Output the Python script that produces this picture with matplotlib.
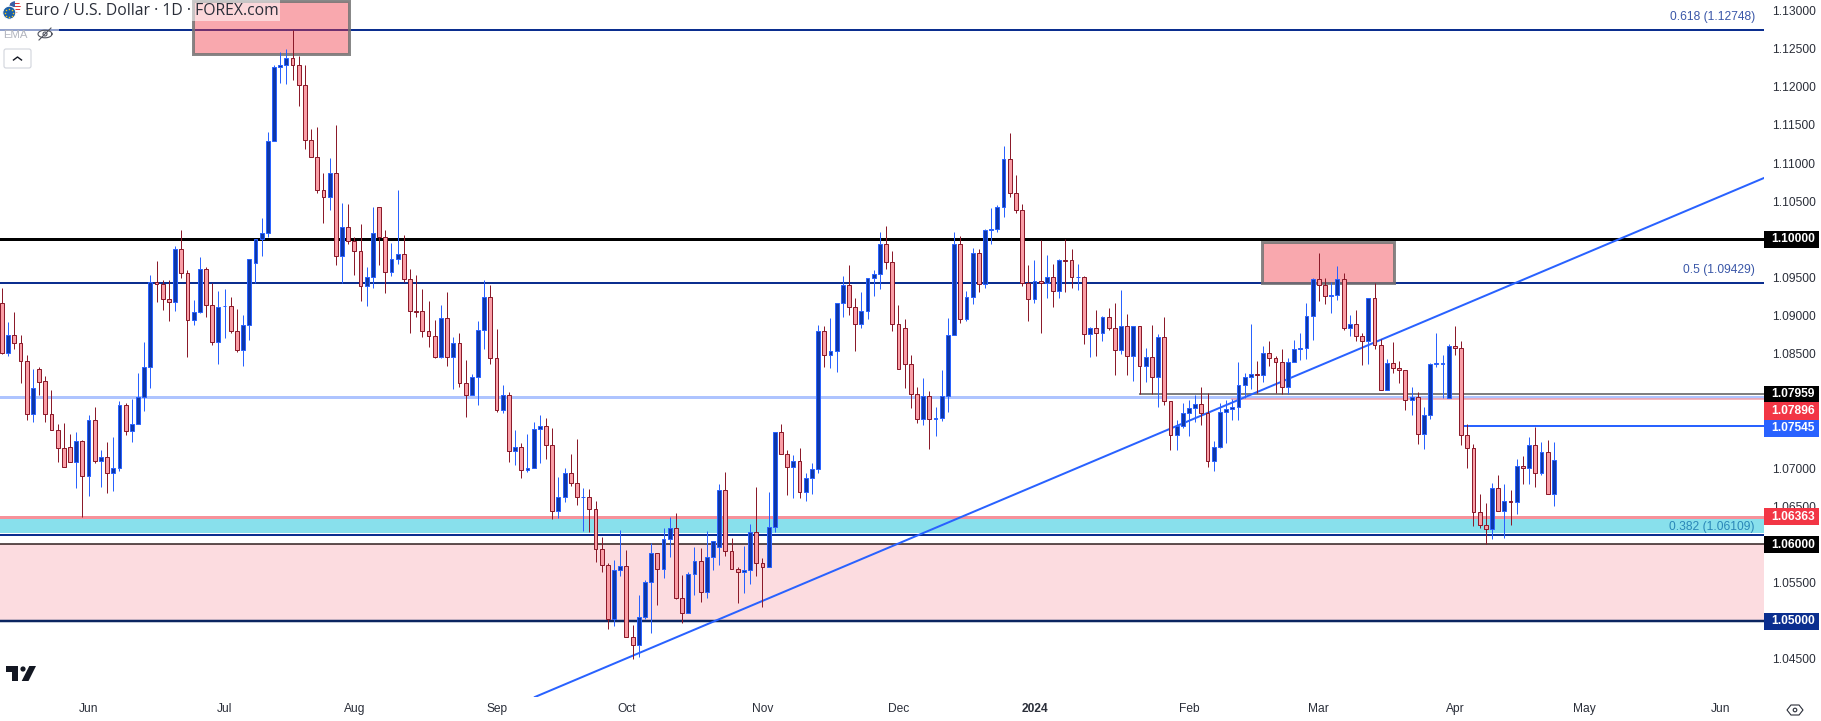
import matplotlib
matplotlib.use('Agg')
import matplotlib.pyplot as plt
import numpy as np
from matplotlib.patches import Circle, Polygon, Rectangle, FancyBboxPatch

# ---- Daily candles
opens = [
    1.09161,1.08506,1.08742,1.08637,1.08401,1.07706,1.08296,1.08139,1.07706,1.07496,
    1.07260,1.07273,1.07077,1.07352,1.06893,1.07627,1.07090,1.07142,1.06933,1.06998,
    1.07824,1.07483,1.07575,1.07929,1.08322,1.09445,1.09410,1.09214,1.09183,1.09869,
    1.09555,1.08938,1.09052,1.09607,1.09135,1.08650,1.09122,1.09122,1.08794,1.08545,
    1.08873,1.09686,1.10009,1.10079,1.11285,1.12255,1.12281,1.12373,1.12281,1.12019,
    1.11298,1.11075,1.10643,1.10551,1.10866,1.09777,1.10166,1.09974,1.09843,1.09384,
    1.09502,1.10420,1.10027,1.09568,1.09738,1.09804,1.09476,1.09056,1.09056,1.08794,
    1.08729,1.08453,1.08965,1.08453,1.08637,1.08112,1.07955,1.08191,1.08807,1.09240,
    1.08440,1.07759,1.07955,1.07221,1.07273,1.06972,1.06998,1.07509,1.07549,1.07300,
    1.06434,1.06618,1.06933,1.06801,1.06618,1.06618,1.06461,1.05936,1.05726,1.05027,
    1.05661,1.05713,1.04783,1.04678,1.05045,1.05504,1.05884,1.05674,1.06067,1.06212,
    1.05294,1.05097,1.05608,1.05779,1.05373,1.05831,1.05962,1.06710,1.05910,1.05674,
    1.05635,1.05661,1.06159,1.05753,1.05709,1.06225,1.07470,1.07182,1.07011,1.07090,
    1.06684,1.06867,1.06985,1.08794,1.08480,1.08532,1.09161,1.09397,1.09109,1.08886,
    1.09056,1.09489,1.09541,1.09935,1.09699,1.08886,1.08834,1.08362,1.07968,1.07641,
    1.07942,1.07641,1.07654,1.07942,1.08742,1.09935,1.08952,1.09240,1.09817,1.09410,
    1.10123,1.10131,1.10420,1.11049,1.10603,1.10381,1.09423,1.09214,1.09450,1.09423,
    1.09502,1.09319,1.09725,1.09725,1.09502,1.09502,1.08755,1.08834,1.08768,1.08978,
    1.08834,1.08545,1.08860,1.08466,1.08860,1.08335,1.08453,1.08191,1.08716,1.07877,
    1.07431,1.07549,1.07719,1.07785,1.07837,1.07719,1.07090,1.07273,1.07732,1.07772,
    1.07798,1.08086,1.08191,1.08230,1.08217,1.08506,1.08440,1.08388,1.08060,1.08388,
    1.08558,1.08571,1.08991,1.09476,1.09397,1.09253,1.09266,1.09476,1.08834,1.08886,
    1.08729,1.08663,1.09227,1.08611,1.08021,1.08375,1.08309,1.08283,1.07890,1.07929,
    1.07444,1.07693,1.08370,1.08370,1.07916,1.08598,1.08571,1.07431,1.07260,1.06421,
    1.06251,1.06198,1.06736,1.06434,1.06566,1.06552,1.07024,1.06998,1.07300,1.06933,1.07208,1.06657,
]
highs = [
    1.09358,1.08921,1.09048,1.08746,1.08484,1.08300,1.08322,1.08209,1.08025,1.07575,
    1.07588,1.07448,1.07474,1.07370,1.07697,1.07802,1.07238,1.07343,1.07409,1.07877,
    1.07850,1.07907,1.08252,1.08659,1.09533,1.09716,1.09467,1.09467,1.09913,1.10123,
    1.09598,1.09205,1.09773,1.09638,1.09423,1.09323,1.09349,1.09249,1.09087,1.09008,
    1.09738,1.10009,1.10280,1.11407,1.12286,1.12461,1.12496,1.12745,1.12404,1.12286,
    1.11442,1.11473,1.10866,1.11067,1.11495,1.10472,1.10464,1.10027,1.10201,1.09642,
    1.10420,1.10420,1.10123,1.09952,1.10647,1.10057,1.09607,1.09533,1.09349,1.09192,
    1.08943,1.09139,1.09314,1.08724,1.08768,1.08418,1.08235,1.08930,1.09467,1.09397,
    1.08825,1.08091,1.07999,1.07501,1.07326,1.07448,1.07606,1.07697,1.07654,1.07523,
    1.06885,1.07003,1.07186,1.07383,1.06736,1.06727,1.06570,1.06098,1.05753,1.05796,
    1.06190,1.05927,1.04944,1.05333,1.05534,1.06015,1.05884,1.06216,1.06360,1.06408,
    1.05600,1.05635,1.05962,1.05949,1.06172,1.06041,1.06788,1.06946,1.06080,1.05709,
    1.05980,1.06268,1.06753,1.05818,1.06684,1.07470,1.07579,1.07238,1.07173,1.07265,
    1.06933,1.07064,1.08877,1.08864,1.08969,1.09161,1.09520,1.09664,1.09231,1.09310,
    1.09489,1.09598,1.10092,1.10175,1.09847,1.09139,1.08952,1.08484,1.08069,1.08182,
    1.08012,1.07798,1.08287,1.08965,1.10092,1.10044,1.09319,1.09882,1.09869,1.10131,
    1.10411,1.10450,1.11224,1.11394,1.10844,1.10464,1.09664,1.09729,1.09992,1.09795,
    1.09677,1.09743,1.10000,1.09869,1.09677,1.09520,1.08851,1.09074,1.08991,1.09100,
    1.09166,1.09336,1.09021,1.08860,1.08860,1.08576,1.08877,1.08755,1.08978,1.07877,
    1.07632,1.07850,1.07894,1.07960,1.08064,1.07981,1.07356,1.07850,1.07894,1.07903,
    1.08392,1.08244,1.08890,1.08405,1.08602,1.08667,1.08471,1.08563,1.08445,1.08681,
    1.08768,1.09161,1.09489,1.09821,1.09489,1.09445,1.09651,1.09555,1.09008,1.09074,
    1.08768,1.09227,1.09423,1.08689,1.08432,1.08654,1.08405,1.08283,1.08064,1.07995,
    1.07802,1.08375,1.08772,1.08484,1.08624,1.08860,1.08667,1.07575,1.07313,1.06657,
    1.06539,1.06801,1.06906,1.06788,1.06714,1.07121,1.07160,1.07409,1.07540,1.07343,1.07370,1.07343,
]
lows = [
    1.08490,1.08471,1.08567,1.08121,1.07632,1.07610,1.07960,1.07610,1.07496,1.07086,
    1.07020,1.07077,1.06745,1.06364,1.06640,1.07072,1.06758,1.06679,1.06705,1.06968,
    1.07440,1.07348,1.07575,1.07754,1.08056,1.09183,1.09074,1.08934,1.09065,1.09498,
    1.08462,1.08877,1.09039,1.08986,1.08619,1.08366,1.08711,1.08777,1.08528,1.08340,
    1.08681,1.09432,1.09782,1.10035,1.11285,1.12054,1.12037,1.12089,1.11748,1.11185,
    1.11075,1.10612,1.10219,1.10385,1.09664,1.09432,1.09939,1.09533,1.09192,1.09131,
    1.09358,1.09664,1.09292,1.09520,1.09673,1.09437,1.08768,1.08986,1.08724,1.08593,
    1.08440,1.08440,1.08340,1.08043,1.08069,1.07675,1.07955,1.07833,1.08567,1.08370,
    1.07741,1.07728,1.07086,1.07042,1.06876,1.06954,1.06998,1.07072,1.07121,1.06338,
    1.06351,1.06561,1.06771,1.06517,1.06177,1.06168,1.05775,1.05643,1.04896,1.04936,
    1.05591,1.04783,1.04503,1.04529,1.05023,1.04844,1.05206,1.05565,1.05840,1.05281,
    1.04975,1.05097,1.05338,1.05250,1.05298,1.05665,1.05731,1.05853,1.05674,1.05237,
    1.05368,1.05482,1.05587,1.05185,1.05700,1.06168,1.07182,1.06649,1.06614,1.06614,
    1.06574,1.06662,1.06941,1.08331,1.08318,1.08265,1.08986,1.09008,1.08541,1.08842,
    1.08960,1.09262,1.09349,1.09611,1.08803,1.08296,1.08056,1.07793,1.07597,1.07571,
    1.07256,1.07426,1.07623,1.07741,1.08742,1.08899,1.08934,1.09153,1.09310,1.09367,
    1.09939,1.10096,1.10297,1.10555,1.10346,1.09389,1.08934,1.09166,1.08777,1.09231,
    1.09118,1.09231,1.09310,1.09367,1.09336,1.08628,1.08462,1.08471,1.08667,1.08816,
    1.08222,1.08493,1.08222,1.08147,1.07968,1.08134,1.07968,1.07807,1.07824,1.07238,
    1.07238,1.07531,1.07426,1.07610,1.07566,1.07020,1.06968,1.07260,1.07335,1.07632,
    1.07632,1.07916,1.08034,1.07990,1.08134,1.08340,1.07981,1.07977,1.07977,1.08388,
    1.08418,1.08432,1.08681,1.09192,1.09153,1.09035,1.09205,1.08812,1.08733,1.08667,
    1.08353,1.08366,1.08563,1.08021,1.08021,1.08248,1.08117,1.07763,1.07697,1.07317,
    1.07252,1.07645,1.08327,1.07920,1.07916,1.08484,1.07304,1.07003,1.06247,1.06220,
    1.06011,1.06072,1.06434,1.06080,1.06255,1.06399,1.06793,1.06793,1.06753,1.06911,1.06657,1.06504,
]
closes = [
    1.08506,1.08742,1.08637,1.08401,1.07706,1.08047,1.08134,1.07706,1.07496,1.07260,
    1.07020,1.07077,1.07352,1.06893,1.07627,1.07090,1.07142,1.06933,1.06998,1.07824,
    1.07483,1.07575,1.07929,1.08322,1.09445,1.09410,1.09214,1.09183,1.09869,1.09555,
    1.08938,1.09052,1.09607,1.09135,1.08650,1.09109,1.09126,1.08794,1.08545,1.08873,
    1.09738,1.10009,1.10079,1.11285,1.12255,1.12281,1.12373,1.12281,1.12019,1.11298,
    1.11075,1.10643,1.10551,1.10866,1.09777,1.10166,1.09974,1.09843,1.09384,1.09502,
    1.10079,1.10027,1.09568,1.09738,1.09804,1.09476,1.09056,1.09052,1.08794,1.08729,
    1.08453,1.08965,1.08453,1.08637,1.08112,1.07955,1.08191,1.08807,1.09240,1.08440,
    1.07759,1.07955,1.07221,1.07273,1.06972,1.06998,1.07509,1.07549,1.07300,1.06434,
    1.06618,1.06933,1.06801,1.06618,1.06622,1.06461,1.05936,1.05726,1.05027,1.05661,
    1.05713,1.04783,1.04678,1.05045,1.05504,1.05884,1.05674,1.06067,1.06212,1.05294,
    1.05097,1.05608,1.05779,1.05373,1.05831,1.06041,1.06710,1.05910,1.05674,1.05635,
    1.05661,1.06159,1.05753,1.05709,1.06225,1.07470,1.07182,1.07011,1.07090,1.06684,
    1.06867,1.06985,1.08794,1.08480,1.08532,1.09161,1.09397,1.09109,1.08886,1.09056,
    1.09489,1.09541,1.09935,1.09699,1.08886,1.08296,1.08362,1.07968,1.07641,1.07942,
    1.07641,1.07654,1.07942,1.08742,1.09935,1.08952,1.09240,1.09817,1.09410,1.10118,
    1.10131,1.10420,1.11049,1.10603,1.10381,1.09423,1.09214,1.09450,1.09423,1.09502,
    1.09319,1.09725,1.09721,1.09502,1.09507,1.08755,1.08834,1.08768,1.08978,1.08834,
    1.08545,1.08860,1.08466,1.08860,1.08335,1.08453,1.08191,1.08716,1.07877,1.07431,
    1.07549,1.07719,1.07785,1.07837,1.07719,1.07090,1.07273,1.07732,1.07772,1.07798,
    1.08086,1.08191,1.08230,1.08217,1.08506,1.08440,1.08388,1.08060,1.08388,1.08558,
    1.08571,1.08991,1.09476,1.09397,1.09253,1.09266,1.09476,1.08834,1.08886,1.08729,
    1.08663,1.09227,1.08611,1.08021,1.08375,1.08309,1.08283,1.07890,1.07929,1.07444,
    1.07693,1.08362,1.08375,1.08375,1.08598,1.08571,1.07431,1.07260,1.06421,1.06251,
    1.06198,1.06736,1.06434,1.06566,1.06552,1.07024,1.06998,1.07300,1.06933,1.07208,1.06657,1.07103,
]

# ---- Time axis
month_labels = ['Jun', 'Jul', 'Aug', 'Sep', 'Oct', 'Nov', 'Dec', '2024', 'Feb', 'Mar', 'Apr', 'May', 'Jun']
month_bars = [14, 36, 57, 80, 101, 123, 145, 167, 192, 213, 235, 256, 278]

# ---- Price axis
price_ticks = [1.045, 1.05, 1.055, 1.06, 1.065, 1.07, 1.075, 1.08, 1.085, 1.09,
               1.095, 1.10, 1.105, 1.11, 1.115, 1.12, 1.125, 1.13]

# ---- Levels and drawings
tag_labels = ['1.10000', '1.07959', '1.07896', '1.07545', '1.06363', '1.06000', '1.05000']
tag_prices = [1.10000, 1.07968, 1.07749, 1.07522, 1.06366, 1.05999, 1.04990]
tag_colors = ['#000000', '#000000', '#f23645', '#2962ff', '#f23645', '#000000', '#0b2e8f']

trend_bars = [86.2, 285.0]
trend_prices = [1.04000, 1.10804]
box_bars = [[30.9, 56.1], [203.8, 225.1]]
box_prices = [[1.12429, 1.13125], [1.09429, 1.09966]]

NAVY = '#0b2e8f'
BLUE = '#2962ff'
BODY_BLUE = '#0d37a8'
BODY_RED = '#f99ea6'
EDGE_RED = '#8b1a2a'
FONT = 'Liberation Sans'
PX = 0.72  # one pixel in points at dpi 100


def candles(ax):
    '''
    Draws the wicks and bodies, blue when the close is at or above the open.
    :param ax: The chart axis.
    :return: Nothing.
    '''
    o, h, l, c = map(np.array, (opens, highs, lows, closes))
    x = np.arange(len(o))
    up = c >= o
    ax.vlines(x[up], l[up], h[up], colors=BLUE, linewidth=PX, zorder=5)
    ax.vlines(x[~up], l[~up], h[~up], colors=EDGE_RED, linewidth=PX, zorder=5)
    ax.bar(x[up], (c - o)[up], bottom=o[up], width=0.62, color=BODY_BLUE,
           edgecolor=BLUE, linewidth=PX, zorder=6)
    ax.bar(x[~up], (o - c)[~up], bottom=c[~up], width=0.62, color=BODY_RED,
           edgecolor=EDGE_RED, linewidth=PX, zorder=6)


def levels(ax):
    '''
    Draws the bands, horizontal levels, trend line and the two boxes.
    :param ax: The chart axis.
    :return: Nothing.
    '''
    xmax = ax.get_xlim()[1]
    ax.axhspan(1.05, 1.06, color='#fcdce0', linewidth=0, zorder=1)
    ax.axhspan(1.06152, 1.06366, color='#88e0ec', linewidth=0, zorder=1)
    ax.axhline(1.12748, color=NAVY, linewidth=2 * PX, zorder=2)
    ax.axhline(1.10000, color='black', linewidth=3 * PX, zorder=2)
    ax.axhline(1.09429, color=NAVY, linewidth=2 * PX, zorder=2)
    ax.axhline(1.07937, color='#aec4ff', linewidth=3 * PX, zorder=2)
    ax.axhline(1.06366, color='#f7919a', linewidth=3 * PX, zorder=2)
    ax.axhline(1.06127, color=NAVY, linewidth=2 * PX, zorder=2)
    ax.axhline(1.06009, color='#2a1a1a', linewidth=1.5 * PX, zorder=2)
    ax.axhline(1.05000, color='#0b2560', linewidth=2.5 * PX, zorder=2)
    ax.hlines(1.07968, 183.9, xmax, color='#808080', linewidth=2 * PX, zorder=2)
    ax.hlines(1.07902, 198.8, xmax, color='#f7a0a8', linewidth=1.5 * PX, zorder=2)
    ax.hlines(1.07555, 236.3, xmax, color=BLUE, linewidth=2 * PX, zorder=2)
    ax.plot(trend_bars, trend_prices, color=BLUE, linewidth=2 * PX, zorder=3)
    for bars, prices in zip(box_bars, box_prices):
        ax.add_patch(Rectangle((bars[0], prices[0]), bars[1] - bars[0], prices[1] - prices[0],
                               facecolor=(0.949, 0.212, 0.271, 0.43), edgecolor=(0.45, 0.45, 0.45, 0.85),
                               linewidth=3 * PX, zorder=4))
    trans = ax.get_yaxis_transform()
    for price, label, color in [(1.12748, '0.618 (1.12748)', '#3a57a8'),
                                (1.09429, '0.5 (1.09429)', '#3a57a8'),
                                (1.06109, '0.382 (1.06109)', '#2a87b8')]:
        ax.annotate(label, (1, price), xycoords=trans, xytext=(-6.5, 5 if price > 1.07 else 2),
                    textcoords='offset points', ha='right', va='bottom', fontsize=8.64,
                    color=color, family=FONT, zorder=7)


def tags(fig, ax):
    '''
    Draws the coloured price tags over the right axis.
    :param fig: The figure.
    :param ax: The chart axis, whose price scale the tags share.
    :return: Nothing.
    '''
    pos = ax.get_position()
    tag_ax = fig.add_axes([pos.x1, pos.y0, 1 - pos.x1, pos.height], sharey=ax, zorder=5)
    tag_ax.patch.set_visible(False)
    tag_ax.axis('off')
    tag_ax.set_xlim(0, 1)
    tag_ax.set_ylim(ax.get_ylim())
    for label, price, color in zip(tag_labels, tag_prices, tag_colors):
        tag_ax.add_patch(Rectangle((0, price - 0.00112), 0.965, 0.00224, facecolor=color, edgecolor='none'))
        tag_ax.text(0.135, price, label, color='white', fontsize=8.64, fontweight='bold',
                    family=FONT, va='center', ha='left')


def header(fig):
    '''
    Draws the title, the indicator line, the logo and the small icons in pixel coordinates.
    :param fig: The figure.
    :return: Nothing.
    '''
    top = fig.add_axes([0, 0, 1, 1], zorder=10)
    top.patch.set_visible(False)
    top.axis('off')
    top.set_xlim(0, 1821)
    top.set_ylim(721, 0)

    # white veils behind the legend text
    top.add_patch(Rectangle((0, 0), 280, 21, facecolor='white', alpha=0.55, edgecolor='none'))
    top.add_patch(Rectangle((0, 22), 59, 18, facecolor='white', alpha=0.55, edgecolor='none'))

    top.text(25, 11, 'Euro / U.S. Dollar · 1D · FOREX.com', fontsize=11.3, color='#2a2e39',
             family='Open Sans', va='center', ha='left')
    top.text(3, 35, 'EMA', fontsize=8.2, color='#b2b5be', family=FONT, va='center', ha='left')

    # flag icon
    us = Circle((15, 7), 5.8, facecolor='white', edgecolor='none')
    top.add_patch(us)
    for y in (2.5, 5.5, 8.5, 11.5):
        stripe = Rectangle((9, y), 12, 1.4, facecolor='#e03a3e', edgecolor='none')
        top.add_patch(stripe)
        stripe.set_clip_path(us)
    canton = Rectangle((9, 1), 6, 6, facecolor='#3c5fa8', edgecolor='none')
    top.add_patch(canton)
    canton.set_clip_path(us)
    top.add_patch(Circle((9.3, 12.7), 6.5, facecolor='#1a5fa8', edgecolor='white', linewidth=0.7))
    angles = np.linspace(0, 2 * np.pi, 8, endpoint=False)
    top.scatter(9.3 + 4 * np.cos(angles), 12.7 + 4 * np.sin(angles), s=1.2, color='#f5c518', linewidths=0)

    # crossed eye
    t = np.linspace(0, 2 * np.pi, 40)
    top.plot(45 + 7 * np.cos(t), 34 + 3.8 * np.sin(t), color='#50535e', linewidth=0.8)
    top.add_patch(Circle((45, 34), 2, facecolor='none', edgecolor='#50535e', linewidth=0.8))
    top.plot([39, 51], [40, 28], color='#50535e', linewidth=0.8)

    # collapse button
    top.add_patch(FancyBboxPatch((4, 49), 27, 19, boxstyle='round,pad=0,rounding_size=2',
                                 facecolor='white', edgecolor='#d1d4dc', linewidth=0.8))
    top.plot([13.5, 17.5, 21.5], [60, 57, 60], color='#131722', linewidth=1)

    # TradingView logo
    top.add_patch(Polygon([(6, 666), (18, 666), (18, 681), (12, 681), (12, 672), (6, 672)],
                          facecolor='#131722', edgecolor='none'))
    top.add_patch(Circle((23, 669), 2.6, facecolor='#131722', edgecolor='none'))
    top.add_patch(Polygon([(36, 666), (28.5, 681), (21.7, 681), (29.3, 666)],
                          facecolor='#131722', edgecolor='none'))

    # eye button in the corner
    top.add_patch(Polygon([(1787, 710), (1791, 705), (1799, 705), (1803, 710), (1799, 715), (1791, 715)],
                          facecolor='none', edgecolor='#2a2e39', linewidth=0.8))
    top.add_patch(Circle((1795, 710), 1.8, facecolor='none', edgecolor='#2a2e39', linewidth=0.8))


W, H = 1821, 721
fig = plt.figure(figsize=(W / 100, H / 100), dpi=100, facecolor='white')
ax = fig.add_axes([0, (H - 697) / H, 1764 / W, 697 / H])
ax.set_xlim(-0.32, 285.0)
ax.set_ylim(1.04000, 1.13137)
for spine in ax.spines.values():
    spine.set_visible(False)

ax.yaxis.tick_right()
ax.set_yticks(price_ticks)
ax.set_yticklabels(['%.5f' % p for p in price_ticks], family=FONT, fontsize=8.64, color='#2a2e39')
ax.tick_params(axis='y', length=0, pad=5.5)
ax.set_xticks(month_bars)
ax.set_xticklabels(month_labels, family=FONT, fontsize=8.64, color='#2a2e39')
ax.tick_params(axis='x', length=0, pad=4.5)
ax.get_xticklabels()[7].set_fontweight('bold')

levels(ax)
candles(ax)
tags(fig, ax)
header(fig)

fig.savefig('out.png', dpi=100)
